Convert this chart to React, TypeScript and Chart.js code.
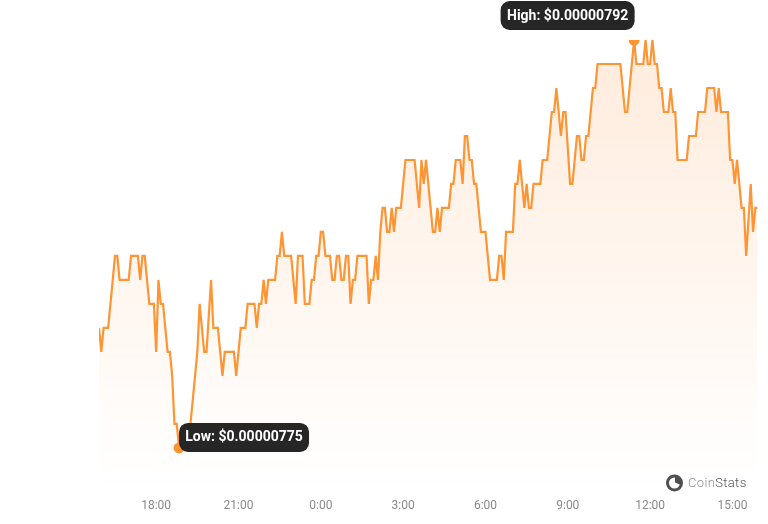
import React, { useEffect, useRef } from "react";
import { Chart, registerables } from "chart.js";

Chart.register(...registerables);

const startMinute = 955;
const endMinute = 2395;
const sampleMinutes = 5;
const tickMinutes = [1080, 1260, 1440, 1620, 1800, 1980, 2160, 2340];
const tickLabels = ["18:00", "21:00", "0:00", "3:00", "6:00", "9:00", "12:00", "15:00"];

// sample number of each turning point of the line
const sampleIndex = [
  0, 1, 2, 4, 7, 8, 9, 13, 14, 17, 18, 19, 20, 22, 24, 25, 26, 27, 28, 30, 31, 32, 33, 34, 35,
  39, 40, 41, 42, 43, 44, 46, 47, 49, 50, 52, 54, 55, 59, 60, 62, 64, 65, 68, 69, 70, 71, 72, 73, 74,
  77, 78, 79, 80, 81, 84, 86, 87, 89, 90, 92, 93, 94, 95, 96, 97, 98, 99, 101, 102, 103, 104, 105, 106, 107,
  108, 109, 110, 111, 112, 113, 117, 118, 119, 120, 121, 122, 123, 124, 125, 126, 127, 128, 129, 130, 132, 134, 138, 140, 141,
  142, 143, 145, 146, 147, 148, 149, 150, 153, 154, 155, 156, 158, 159, 160, 161, 162, 163, 164, 165, 167, 169, 171, 174, 175,
  176, 177, 178, 181, 182, 183, 184, 186, 187, 188, 189, 190, 193, 194, 196, 198, 199, 200, 202, 203, 204, 206, 207, 209, 210,
  211, 212, 213, 214, 216, 217, 218, 228, 230, 231, 234, 235, 238, 239, 240, 241, 242, 243, 244, 245, 246, 247, 249, 250, 251,
  252, 253, 257, 258, 261, 262, 265, 266, 269, 270, 271, 272, 275, 276, 277, 278, 279, 281, 282, 283, 285, 286, 287, 288,
];

// price at each turning point, in units of 0.00000001 USD
const priceLevels = [
  780, 779, 780, 780, 783, 783, 782, 782, 783, 783, 782, 783, 783, 781, 781, 779, 782, 781, 781, 779, 779, 778, 776, 776, 775,
  775, 776, 777, 778, 779, 781, 779, 779, 782, 780, 780, 778, 779, 779, 778, 780, 780, 781, 781, 780, 781, 781, 782, 781, 782,
  782, 783, 783, 784, 783, 783, 781, 783, 783, 781, 781, 782, 782, 783, 783, 784, 784, 783, 783, 782, 782, 783, 783, 782, 782,
  783, 783, 781, 782, 782, 783, 783, 781, 782, 782, 783, 782, 784, 785, 785, 784, 784, 785, 784, 785, 785, 787, 787, 785, 787,
  786, 787, 785, 784, 784, 785, 784, 785, 785, 786, 786, 787, 787, 786, 788, 788, 787, 787, 786, 786, 784, 784, 782, 782, 783,
  783, 782, 784, 784, 786, 786, 787, 785, 786, 785, 785, 786, 786, 787, 787, 789, 789, 790, 788, 789, 789, 786, 786, 788, 788,
  787, 787, 788, 788, 790, 790, 791, 791, 789, 789, 792, 791, 791, 792, 791, 791, 792, 791, 791, 790, 790, 789, 789, 790, 789,
  789, 787, 787, 788, 788, 789, 789, 790, 790, 789, 790, 789, 789, 787, 787, 786, 787, 785, 785, 783, 786, 784, 785, 785,
];

const LEVEL_TO_USD = 1e-8;
const points = sampleIndex.map((s, i) => ({ x: startMinute + s * sampleMinutes, y: priceLevels[i] }));
const high = Math.max(...priceLevels);
const low = Math.min(...priceLevels);
const highIdx = priceLevels.indexOf(high);
const lowIdx = priceLevels.indexOf(low);
const fmt = (v: number) => "$" + (v * LEVEL_TO_USD).toFixed(8);

const ORANGE = "#ff9432";

const overlay = {
  id: "overlay",
  afterDatasetsDraw(chart: any) {
    const { ctx, scales } = chart;
    const pill = (text: string, x: number, y: number, w: number, h: number) => {
      ctx.save();
      ctx.fillStyle = "#262626";
      ctx.beginPath();
      ctx.roundRect(x, y, w, h, 9);
      ctx.fill();
      ctx.fillStyle = "#ffffff";
      ctx.font = "700 14px Roboto";
      ctx.textAlign = "center";
      ctx.textBaseline = "middle";
      ctx.fillText(text, x + w / 2, y + h / 2 + 0.5);
      ctx.restore();
    };
    const hx = scales.x.getPixelForValue(points[highIdx].x);
    const hy = scales.y.getPixelForValue(high);
    const lx = scales.x.getPixelForValue(points[lowIdx].x);
    const ly = scales.y.getPixelForValue(low);
    pill("High: " + fmt(high), hx - 133.5, hy - 39, 134, 29);
    pill("Low: " + fmt(low), lx, ly - 25, 130, 29);

    // CoinStats watermark
    ctx.save();
    const cx = 674.5;
    const cy = 483;
    ctx.strokeStyle = "#4f4f4f";
    ctx.lineWidth = 3;
    ctx.beginPath();
    ctx.arc(cx, cy, 7, 0, Math.PI * 2);
    ctx.stroke();
    ctx.fillStyle = "#4f4f4f";
    ctx.beginPath();
    ctx.moveTo(cx + 0.5, cy - 0.5);
    ctx.lineTo(cx + 0.5, cy - 7);
    ctx.arc(cx + 0.5, cy - 0.5, 7, -Math.PI / 2, Math.PI / 8);
    ctx.closePath();
    ctx.fill();
    ctx.font = "300 13px Roboto";
    ctx.letterSpacing = "0.35px";
    ctx.textBaseline = "middle";
    ctx.textAlign = "left";
    ctx.fillStyle = "#8f8f8f";
    ctx.fillText("Coin", 688, 483.5);
    const w = ctx.measureText("Coin").width;
    ctx.fillStyle = "#555555";
    ctx.fillText("Stats", 688 + w, 483.5);
    ctx.restore();
  },
};

export default function App() {
  const ref = useRef<HTMLCanvasElement | null>(null);
  useEffect(() => {
    const canvas = ref.current!;
    const chart = new Chart(canvas, {
      type: "line",
      data: {
        datasets: [
          {
            data: points,
            borderColor: ORANGE,
            borderWidth: 2.2,
            tension: 0,
            fill: "start",
            backgroundColor: (c: any) => {
              const a = c.chart.chartArea;
              if (!a) return "rgba(255,148,50,0.1)";
              const g = c.chart.ctx.createLinearGradient(0, a.top, 0, a.bottom);
              g.addColorStop(0, "rgba(255,140,50,0.17)");
              g.addColorStop(1, "rgba(255,140,50,0)");
              return g;
            },
            pointRadius: (c: any) => (c.dataIndex === highIdx || c.dataIndex === lowIdx ? 5.5 : 0),
            pointBackgroundColor: ORANGE,
            pointBorderWidth: 0,
          },
        ],
      },
      options: {
        responsive: false,
        animation: false,
        layout: { padding: { left: 99, right: 10.4, top: 40, bottom: 0 } },
        plugins: { legend: { display: false }, tooltip: { enabled: false } },
        scales: {
          x: {
            type: "linear",
            min: startMinute,
            max: endMinute,
            afterBuildTicks: (s: any) => {
              s.ticks = tickMinutes.map((v) => ({ value: v }));
            },
            afterFit: (s: any) => {
              s.height = 36;
            },
            grid: { display: false },
            border: { display: false },
            ticks: {
              autoSkip: false,
              maxRotation: 0,
              padding: 3,
              color: "#8a8a8a",
              font: { family: "Roboto", size: 12 },
              callback: (v: any) => tickLabels[tickMinutes.indexOf(Number(v))] ?? "",
            },
          },
          y: {
            display: false,
            min: 773.33,
            max: 792,
          },
        },
      },
      plugins: [overlay],
    } as any);
    return () => chart.destroy();
  }, []);
  return (
    <div style={{ position: "absolute", left: 0, top: 0, width: 768, height: 524, background: "#fff" }}>
      <canvas ref={ref} width={768} height={524} style={{ display: "block" }} />
    </div>
  );
}
